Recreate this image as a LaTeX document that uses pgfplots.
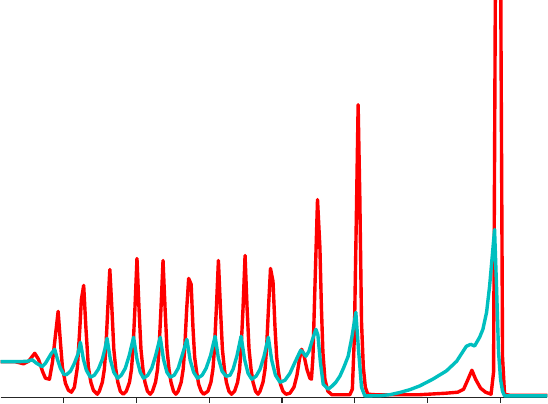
\documentclass[border=0pt]{standalone}
\usepackage{pgfplots}
\pgfplotsset{compat=1.18}
\definecolor{myred}{RGB}{255,0,0}
\definecolor{mycyan}{RGB}{0,191,191}
\begin{document}
\begin{tikzpicture}
\begin{axis}[
  scale only axis, width=548pt, height=404pt,
  xmin=0, xmax=548, ymin=-6, ymax=398,
  axis x line=middle, hide y axis,
  x axis line style={-, black!85, line width=1.1pt},
  xtick={63,136,209,282,355,428,501},
  xticklabels={},
  x tick label style={overlay, inner sep=0pt},
  xtick align=outside,
  major tick length=6pt,
  every tick/.style={black!85, line width=1.1pt},
]
\addplot[myred, line width=3.4pt, line join=round, line cap=round, no markers] coordinates {
(0,35.5)(15,35.5)(23,33.5)(28,36)(34.3,44)(38,38)(42,26)(45,19)(49,18)(52,35)(55,62)(57.7,86)(60,55)(62,30)(65,14)(68,7)(71,5)(74,10)(77,30)(79.5,70)(81,98)(83.3,112)(85.5,70)(88,30)(90.5,15)(93,7)(97,3)
(99,6)(102,15)(104,28)(105.5,48)(107.5,90)(109.5,128)(111.5,90)(113.5,48)(115.5,28)(117.5,15)(120,6)(123,3)
(126,6)(129.2,15)(131.2,28)(132.7,48)(134.7,90)(136.7,139)(138.7,90)(140.7,48)(142.7,28)(144.7,15)(147.2,6)(150,3)
(152.3,6)(155.3,15)(157.3,28)(158.8,48)(160.8,90)(162.8,137)(164.8,90)(166.8,48)(168.8,28)(170.8,15)(173.3,6)(175.7,3)
(178,6)(181,15)(183,28)(184.5,48)(186.5,88)(188.5,119)(191,113)(192.8,70)(194.5,40)(196.5,25)(198.5,13)(201,6)(203.5,3)
(207.8,6)(210.8,15)(212.8,28)(214.3,48)(216.3,90)(218.3,137)(220.3,90)(222.3,48)(224.3,28)(226.3,15)(228.8,6)(231.5,3)
(234.5,6)(237.5,15)(239.5,28)(241,48)(243,90)(245,142)(247,90)(249,48)(251,28)(253,15)(255.5,6)(258,3)
(260,6)(263,15)(265,28)(266.5,48)(268.5,90)(270.5,129)(273,116)(275,70)(276.7,40)(278.5,25)(280.5,13)(283,6)(286,3)
(290,4)(294,10)(297,22)(299.5,38)(301.7,48)(304,42)(307,28)(310,19)(311.5,18)(313,40)(315,110)(317.6,198)(320,150)(321.5,90)(323,45)(325,18)(328,6)(332,2.5)(350,2.5)(352.5,8)(354.5,60)(356.5,180)(358.3,293)(360,200)(361.7,75)(363.5,30)(365.5,10)(368,3)(375,2.5)(420,2.5)(446,4)(458,5)(464,8)(468,17)(472.3,27)(476,18)(481,9)(486,5)(491.5,3)(494,25)(496,450)(501,450)(503,40)(505,3)(510,2)(548,2)
};
\addplot[mycyan, line width=3.4pt, line join=round, line cap=round, no markers] coordinates {
(0,35.7)(20,35.7)(27,36)(31.7,37.5)(36,34)(41.7,30.7)(45,34)(48,39)(51,44)(54.3,48)(57,38)(60,29)(63.3,23)(66,22.5)(70,26)(74,34)(77.5,43)(80,55)(83,38)(86,27)(90,20)(94,22)(98,28)(102,38)(104.5,48)(106.7,59)(110,38)(113.5,25)(117.3,19)(121,22)(125,29)(129,42)(133.3,60)(136.7,38)(140,25)(143.3,19)(147.5,22)(151.5,29)(155.5,42)(160,60)(163.3,38)(166.7,25)(170,20)(174,22)(178,29)(182,42)(186.7,58)(190,37)(193.5,25)(197.3,19)(202,22)(206,29)(210.5,42)(215,61)(218.3,39)(222,26)(226,21)(230,22)(233,28)(237,42)(241,61)(244.5,38)(248,24)(251.7,18)(256,21)(260,28)(264,41)(268.3,60)(271.7,37)(275.5,22)(280,15)(285,17)(290,24)(295,35)(300.7,47)(303,45)(306,41)(309,46)(312,56)(316,68)(318,62)(320.5,35)(323.3,13)(328.3,8)(332,11)(336,15)(340,21)(344,30)(348.3,41)(352,60)(356,85)(358.5,50)(361.7,10)(365,1.3)(380,1.5)(390,2.5)(400,4.7)(410,7.5)(420,11.3)(433,18)(446.7,26.3)(457,36)(466.7,51)(471,53)(475,51.3)(480,60)(483.3,68)(487,85)(490,111)(493,145)(495,168)(497,110)(499,45)(501,18)(503,6)(505,1.3)(548,1.3)
};
\end{axis}
\end{tikzpicture}
\end{document}
